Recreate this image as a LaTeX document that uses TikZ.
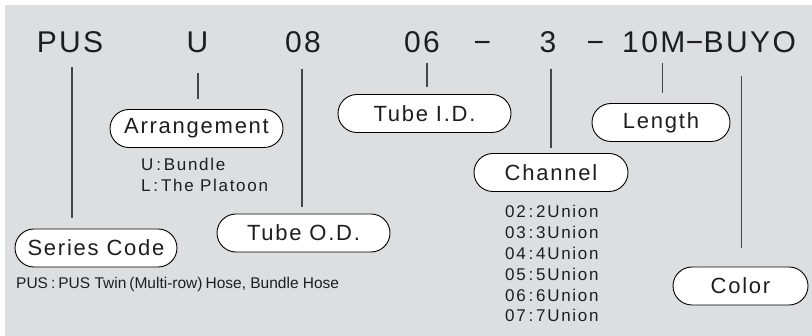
\documentclass[tikz,border=0pt]{standalone}
\usepackage{fontspec}
\setmainfont{Liberation Sans}
\newfontfamily\codefont[LetterSpace=8]{Liberation Sans}
\newfontfamily\notefont[LetterSpace=10]{Liberation Sans}
\usepackage{tikz}
\usetikzlibrary{positioning}
\definecolor{panel}{RGB}{221,222,224}
\definecolor{ink}{RGB}{30,30,30}
\definecolor{leadgray}{RGB}{70,70,70}
\tikzstyle{code} = [inner sep=0pt,text height=22pt,text depth=0pt,anchor=base,text=ink,font=\codefont\fontsize{30}{36}\selectfont]
\tikzstyle{tag} = [draw=black,fill=white,line width=0.9pt,rounded corners=19pt,minimum height=38pt,inner sep=0pt,text=ink,font=\codefont\fontsize{22}{26}\selectfont]
\tikzstyle{note} = [inner sep=0pt,anchor=base west,text=ink,font=\notefont\fontsize{17}{21}\selectfont]
\tikzstyle{lead} = [draw=leadgray,line width=1.1pt]

\begin{document}
\begin{tikzpicture}[x=1pt,y=-1pt]
	\useasboundingbox (0,0) rectangle (812,336);
	\fill[panel] (5,5) rectangle (812,336);

	%Code
	\node[code] (pus) at (70,53) {PUS};
	\node[code] (u) at (197.5,53) {U};
	\node[code] (od) at (303,53) {08};
	\node[code] (id) at (422,53) {06};
	\node[code] (dashA) at (482.5,53) {−};
	\node[code] (ch) at (548,53) {3};
	\node[code] (dashB) at (595.5,53) {−};
	\node[code,anchor=base west] (len) at (622,53) {10M};
	\node[code,right=0pt of len] (dashC) {−};
	\node[code,right=0pt of dashC] (col) {BUYO};

	%Tags
	\node[tag,minimum width=173pt] (arr) at (196.5,128.5) {Arrangement};
	\node[tag,minimum width=173pt] (tid) at (424.5,113.5) {Tube I.D.};
	\node[tag,minimum width=138pt] (length) at (661,122.5) {Length};
	\node[tag,minimum width=154pt] (chan) at (551,172.5) {Channel};
	\node[tag,minimum width=162pt] (series) at (96,248) {Series Code};
	\node[tag,minimum width=173pt] (tod) at (303.5,233) {Tube O.D.};
	\node[tag,minimum width=135pt] (color) at (740.5,286) {Color};

	%Notes
	\node[note] (ubundle) at (141,171) {U\,:\,Bundle};
	\node[note] (lplatoon) at (141,192) {L\,:\,The Platoon};
	\node[note,font=\normalfont\fontsize{15.5}{19}\selectfont] (pusnote) at (16,289) {PUS\kern3pt:\kern3pt PUS Twin\kern3pt(Multi-row)\kern3pt Hose, Bundle Hose};
	\foreach \n [count=\i from 0] in {2,...,7}
		\node[note] (union\n) at (505,218+20.8*\i) {0\n\,:\,\n Union};

	%Lines
	\foreach \from/\to/\dx/\sa/\sb in {pus/series/2/14/11,u/arr/0.5/20/10,od/tod/-1/16/7,id/tid/5/10/7,ch/chan/3/16/5,len/length/8.5/10/10,col/color/-8/23/19}
		\draw[lead,shorten <=\sa pt,shorten >=\sb pt] ([xshift=\dx pt]\from.south) -- ([xshift=\dx pt]\from.south |- \to.north);
\end{tikzpicture}
\end{document}
